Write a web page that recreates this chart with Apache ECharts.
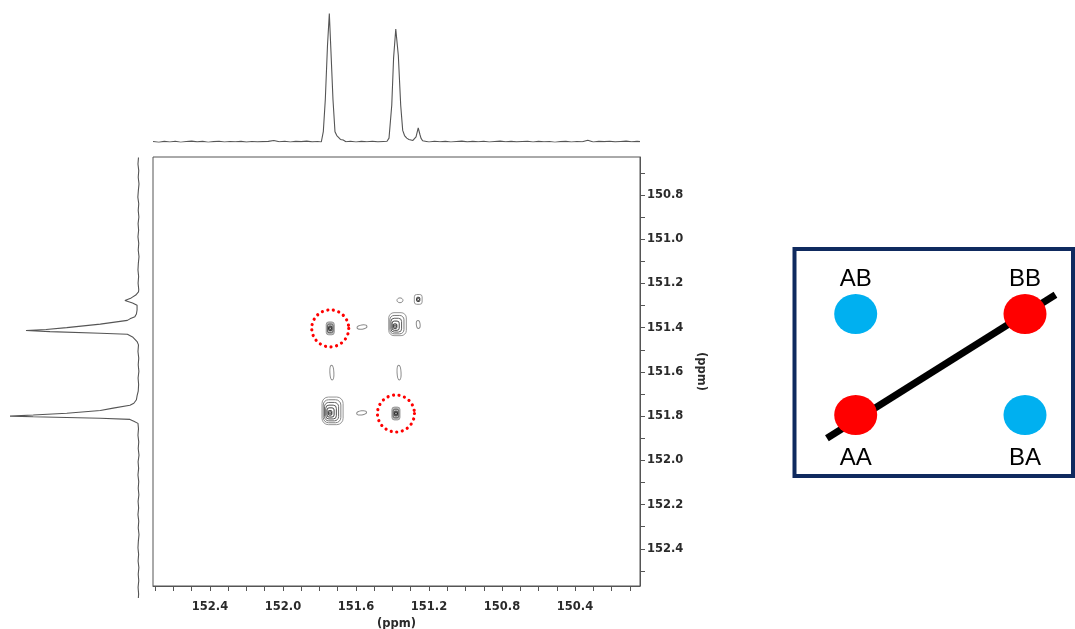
<!DOCTYPE html>
<html>
<head>
<meta charset="utf-8">
<script src="https://cdn.jsdelivr.net/npm/echarts@6/dist/echarts.min.js"></script>
<style>
html,body{margin:0;padding:0;background:#fff;}
#chart{width:1075px;height:629px;}
</style>
</head>
<body>
<div id="chart"></div>
<script>
// ---------------- DATA ----------------
// axis ticks / labels (ppm)
const xTickValues = [152.7,152.6,152.5,152.4,152.3,152.2,152.1,152.0,151.9,151.8,151.7,151.6,151.5,151.4,151.3,151.2,151.1,151.0,150.9,150.8,150.7,150.6,150.5,150.4,150.3,150.2,150.1];
const xLabelValues = [152.4,152.0,151.6,151.2,150.8,150.4];
const yTickValues = [150.7,150.8,150.9,151.0,151.1,151.2,151.3,151.4,151.5,151.6,151.7,151.8,151.9,152.0,152.1,152.2,152.3,152.4,152.5];
const yLabelValues = [150.8,151.0,151.2,151.4,151.6,151.8,152.0,152.2,152.4];

// 2D contour peaks: F2 (x, ppm), F1 (y, ppm), number of contour levels, shape kind
const peakX      = [151.742, 151.386, 151.741, 151.381, 151.259, 151.359, 151.259, 151.567, 151.569, 151.732, 151.364];
const peakY      = [151.785, 151.393, 151.403, 151.788, 151.272, 151.276, 151.385, 151.397, 151.785, 151.603, 151.603];
const peakLevels = [6, 5, 3, 3, 2, 1, 1, 1, 1, 1, 1];
const peakShape  = ['peak','peak','cross','cross','small','dot','vshort','h','h','v','v'];

// highlighted (circled) cross peaks
const circledX = [151.741, 151.381];
const circledY = [151.403, 151.788];

// top projection (F2): [ppm, intensity]
const topProjection = [
[152.712,0.004],[152.68,-0.003],[152.65,0.005],[152.62,0.0],[152.59,0.006],[152.56,-0.002],[152.53,0.004],[152.50,0.007],
[152.47,0.001],[152.44,0.005],[152.41,-0.002],[152.38,0.003],[152.35,0.006],[152.32,0.0],[152.29,0.004],[152.26,0.002],
[152.23,0.005],[152.20,-0.001],[152.17,0.004],[152.14,0.001],[152.11,0.003],[152.08,0.005],[152.05,0.012],[152.02,0.002],
[151.99,0.006],[151.96,0.0],[151.93,0.005],[151.90,0.003],[151.87,0.007],[151.84,0.001],[151.81,0.004],[151.79,0.0],
[151.779,0.08],[151.768,0.33],[151.756,0.75],[151.746,0.995],[151.737,0.70],[151.726,0.33],[151.715,0.08],[151.705,0.05],
[151.697,0.045],[151.685,0.02],[151.670,0.015],[151.655,0.002],[151.63,0.006],[151.60,0.0],[151.57,0.005],[151.54,0.002],
[151.51,0.006],[151.48,0.001],[151.45,0.004],[151.43,0.006],
[151.419,0.03],[151.404,0.285],[151.394,0.65],[151.382,0.875],[151.377,0.86],[151.368,0.67],[151.355,0.285],[151.344,0.09],
[151.334,0.05],[151.322,0.03],[151.310,0.02],[151.300,0.01],[151.288,0.012],[151.278,0.02],[151.271,0.04],[151.259,0.11],
[151.250,0.06],[151.244,0.03],[151.235,0.01],[151.227,0.004],
[151.20,0.0],[151.17,0.006],[151.14,0.002],[151.11,0.005],[151.08,0.0],[151.05,0.004],[151.02,0.007],[150.99,0.001],
[150.96,0.005],[150.93,0.002],[150.90,0.006],[150.87,0.0],[150.84,0.004],[150.81,0.007],[150.78,0.002],[150.75,0.005],
[150.72,0.001],[150.69,0.004],[150.66,0.006],[150.63,0.0],[150.60,0.005],[150.57,0.002],[150.54,0.004],[150.51,-0.002],
[150.48,0.003],[150.45,0.005],[150.42,0.0],[150.39,0.004],[150.36,0.002],[150.33,0.013],[150.30,0.0],[150.27,0.005],
[150.24,0.003],[150.21,0.006],[150.18,0.001],[150.15,0.004],[150.12,0.007],[150.09,0.002],[150.06,0.005],[150.044,0.003]
];

// left projection (F1): [intensity, ppm]
const leftProjection = [
[0.004,150.63],[0.008,150.66],[0.002,150.69],[0.006,150.72],[0.0,150.75],[0.005,150.78],[0.009,150.81],[0.002,150.84],
[0.006,150.87],[0.001,150.90],[0.007,150.93],[0.003,150.96],[0.008,150.99],[0.002,151.02],[0.006,151.05],[0.0,151.08],
[0.005,151.11],[0.008,151.14],[0.003,151.17],[0.007,151.20],[0.002,151.23],
[0.004,151.240],[0.025,151.254],[0.06,151.267],[0.109,151.279],[0.05,151.290],[0.015,151.300],[0.01,151.307],[0.015,151.322],
[0.02,151.340],[0.032,151.352],[0.07,151.362],[0.09,151.369],[0.30,151.386],[0.56,151.402],[0.72,151.410],[0.876,151.415],
[0.69,151.420],[0.30,151.427],[0.09,151.432],[0.05,151.444],[0.015,151.465],[0.004,151.48],
[0.008,151.51],[0.002,151.54],[0.006,151.57],[0.001,151.60],[0.007,151.63],[0.003,151.66],[0.006,151.69],
[0.015,151.711],[0.02,151.729],[0.04,151.745],[0.07,151.754],[0.20,151.767],[0.30,151.778],[0.56,151.790],[0.82,151.798],
[1.0,151.803],[0.82,151.806],[0.30,151.813],[0.07,151.818],[0.04,151.826],[0.008,151.836],
[0.004,151.86],[0.008,151.89],[0.002,151.92],[0.006,151.95],[0.0,151.98],[0.007,152.01],[0.003,152.04],[0.008,152.07],
[0.002,152.10],[0.006,152.13],[0.001,152.16],[0.007,152.19],[0.003,152.22],[0.008,152.25],[0.002,152.28],[0.006,152.31],
[0.0,152.34],[0.005,152.37],[0.008,152.40],[0.003,152.43],[0.007,152.46],[0.001,152.49],[0.006,152.52],[0.002,152.55],
[0.007,152.58],[0.003,152.61],[0.005,152.628]
];

// schematic: spin-pair labels (first letter = column, second letter = row)
const schemLabels = ['AB','BB','AA','BA'];
const schemDiagonal = [[-0.17,-0.23],[1.18,1.19]];

// ---------------- STYLE ----------------
const axisFont = {fontFamily:'DejaVu Sans', fontWeight:'bold', fontSize:11.5, color:'#2a2a2a'};
const axisGrey = '#555';
const ringStyle = {
  peak:  {w0:3.6, h0:4.6, dw:3.5, dh:4.6, shift:true},
  cross: {w0:3.2, h0:4.4, dw:2.4, dh:4.2, fill:'#bdbdbd'},
  small: {w0:3.2, h0:4.2, dw:4.6, dh:5.6}
};
const ellipseStyle = {
  dot:    {rx:3.0, ry:2.4, rot:0},
  vshort: {rx:1.9, ry:4.0, rot:0.1},
  h:      {rx:5.0, ry:2.1, rot:0.12},
  v:      {rx:2.0, ry:7.3, rot:0.05}
};

function ringColor(k, n){
  if (n <= 1) return '#777';
  const t = k/(n-1); // 0 inner -> 1 outer
  const g = Math.round(40 + t*110);
  return 'rgb('+g+','+g+','+g+')';
}

function renderContour(params, api){
  const i = params.dataIndex;
  const c = api.coord([api.value(0), api.value(1)]);
  const kind = peakShape[i];
  const n = api.value(2);
  const children = [];
  if (ringStyle[kind]){
    const s = ringStyle[kind];
    for (let k = n-1; k >= 0; k--){
      const w = s.w0 + s.dw*k, h = s.h0 + s.dh*k;
      const f = n > 1 ? k/(n-1) : 0;
      const dx = s.shift ? 2.5*f : 0, dy = s.shift ? -2.0*f : 0;
      children.push({
        type:'rect',
        shape:{x:c[0]-w/2+dx, y:c[1]-h/2+dy, width:w, height:h, r:Math.min(w,h)*0.3},
        style:{fill:(s.fill && k===n-1)? s.fill : 'none', stroke:ringColor(k,n), lineWidth:1}
      });
    }
    children.push({type:'circle', shape:{cx:c[0], cy:c[1], r:1.2}, style:{fill:'none', stroke:'#222', lineWidth:0.8}});
  } else {
    const e = ellipseStyle[kind];
    children.push({
      type:'ellipse',
      shape:{cx:0, cy:0, rx:e.rx, ry:e.ry},
      x:c[0], y:c[1], rotation:e.rot,
      style:{fill:'none', stroke:'#8a8a8a', lineWidth:1}
    });
  }
  return {type:'group', children:children};
}

const contourData = peakX.map((x,i)=>[x, peakY[i], peakLevels[i]]);
const circledData = circledX.map((x,i)=>[x, circledY[i]]);
const schemData = schemLabels.map(l=>{
  const col = l[0]==='A'?0:1, row = l[1]==='A'?0:1;
  const diag = l[0]===l[1];
  return {
    name:l, value:[col,row],
    itemStyle:{color: diag ? '#ff0000' : '#00b0f0', opacity:1},
    label:{position: row===1 ? 'top' : 'bottom', distance: row===1 ? 3 : 11}
  };
});

const option = {
  backgroundColor:'#fff',
  animation:false,
  grid:[
    {left:153, top:157, width:487, height:429, show:true, borderColor:axisGrey, borderWidth:1, backgroundColor:'transparent', outerBoundsMode:'none', containLabel:false},
    {left:153, top:13, width:487, height:129, outerBoundsMode:'none'},
    {left:10, top:157, width:129, height:441, outerBoundsMode:'none'},
    {left:794.5, top:249, width:278.5, height:227, show:true, borderColor:'#0f2a5f', borderWidth:4, backgroundColor:'transparent', outerBoundsMode:'none'}
  ],
  xAxis:[
    {gridIndex:0, type:'value', min:150.044, max:152.712, inverse:true,
     axisLine:{show:true, lineStyle:{color:axisGrey}},
     axisTick:{show:true, customValues:xTickValues, length:5, lineStyle:{color:axisGrey}},
     axisLabel:Object.assign({customValues:xLabelValues, margin:15, formatter:v=>v.toFixed(1)}, axisFont),
     splitLine:{show:false},
     name:'(ppm)', nameLocation:'middle', nameGap:28, nameTextStyle:axisFont},
    {gridIndex:1, type:'value', min:150.044, max:152.712, inverse:true, show:false},
    {gridIndex:2, type:'value', min:0, max:1, inverse:true, show:false},
    {gridIndex:3, type:'value', min:-0.3615, max:1.2835, show:false}
  ],
  yAxis:[
    {gridIndex:0, type:'value', min:150.628, max:152.568, inverse:true, position:'right',
     axisLine:{show:true, lineStyle:{color:axisGrey}},
     axisTick:{show:true, customValues:yTickValues, length:5, lineStyle:{color:axisGrey}},
     axisLabel:Object.assign({customValues:yLabelValues, margin:7, formatter:v=>v.toFixed(1)}, axisFont),
     splitLine:{show:false},
     name:'(ppm)', nameLocation:'middle', nameRotate:-90, nameGap:55, nameTextStyle:axisFont},
    {gridIndex:1, type:'value', min:0, max:1, show:false},
    {gridIndex:2, type:'value', min:150.628, max:152.628, inverse:true, show:false},
    {gridIndex:3, type:'value', min:-0.604, max:1.6435, show:false}
  ],
  series:[
    {type:'custom', xAxisIndex:0, yAxisIndex:0, data:contourData, renderItem:renderContour, silent:true},
    {type:'scatter', xAxisIndex:0, yAxisIndex:0, data:circledData, symbol:'circle', symbolSize:37,
     itemStyle:{color:'rgba(0,0,0,0)', opacity:1, borderColor:'#ff0000', borderWidth:3.2, borderType:[0.01,5.6], borderCap:'round'}, z:5},
    {type:'line', xAxisIndex:1, yAxisIndex:1, data:topProjection, showSymbol:false, symbol:'none',
     lineStyle:{color:'#555', width:1.1}},
    {type:'line', xAxisIndex:2, yAxisIndex:2, data:leftProjection, showSymbol:false, symbol:'none',
     lineStyle:{color:'#555', width:1.1}},
    {type:'line', xAxisIndex:3, yAxisIndex:3, data:schemDiagonal, showSymbol:false, symbol:'none',
     lineStyle:{color:'#000', width:7, cap:'butt'}, z:2},
    {type:'scatter', xAxisIndex:3, yAxisIndex:3, data:schemData, symbol:'circle', symbolSize:[43,40], z:3,
     label:{show:true, formatter:p=>p.name, fontFamily:'Liberation Sans', fontSize:24, color:'#000'}}
  ]
};

const chart = echarts.init(document.getElementById('chart'), null, {renderer:'canvas'});
chart.setOption(option);
</script>
</body>
</html>
